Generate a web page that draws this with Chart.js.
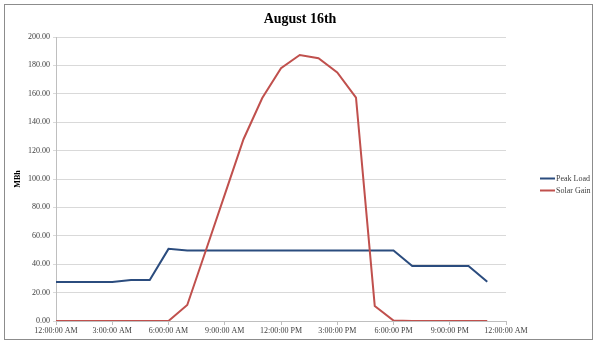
<!DOCTYPE html>
<html>
<head>
<meta charset="utf-8">
<title>August 16th</title>
<script src="https://cdn.jsdelivr.net/npm/chart.js@4"></script>
<style>
  html, body { margin: 0; padding: 0; background: #ffffff; }
  #wrap { position: relative; width: 595px; height: 341px; }
</style>
</head>
<body>
<div id="wrap"><canvas id="chart" width="595" height="341"></canvas></div>
<script>
// Hour of day for each reading (0 = midnight)
const hours = [0, 1, 2, 3, 4, 5, 6, 7, 8, 9, 10, 11, 12, 13, 14, 15, 16, 17, 18, 19, 20, 21, 22, 23];

// Hourly peak cooling load, MBh
const peakLoad = [27.5, 27.5, 27.5, 27.5, 28.8, 28.8, 50.8, 49.7, 49.7, 49.7, 49.7, 49.7,
                  49.7, 49.7, 49.7, 49.7, 49.7, 49.7, 49.7, 38.8, 38.8, 38.8, 38.8, 27.6];

// Hourly solar heat gain, MBh
const solarGain = [0, 0, 0, 0, 0, 0, 0, 11.3, 50, 89, 128, 157,
                   178, 187.3, 185, 175, 157.3, 10.6, 0.3, 0, 0, 0, 0, 0];

// Axis tick labels, one every three hours
const xTickLabels = ['12:00:00 AM', '3:00:00 AM', '6:00:00 AM', '9:00:00 AM', '12:00:00 PM',
                     '3:00:00 PM', '6:00:00 PM', '9:00:00 PM', '12:00:00 AM'];

const seriesNames = ['Peak Load', 'Solar Gain'];
const seriesColors = ['#2b4c7e', '#c0504d'];

const SERIF = '"Liberation Serif", "Times New Roman", serif';

const toPoints = (vals) => vals.map((v, i) => ({ x: hours[i], y: v }));

// Page frame and white background
const framePlugin = {
  id: 'frame',
  beforeDraw(chart) {
    const ctx = chart.ctx;
    ctx.save();
    ctx.fillStyle = '#ffffff';
    ctx.fillRect(0, 0, chart.width, chart.height);
    ctx.strokeStyle = '#8c8c8c';
    ctx.lineWidth = 1;
    ctx.strokeRect(4.5, 4.5, 588, 335);
    ctx.restore();
  }
};

// Legend drawn in the space right of the plot: line sample + label
const sideLegend = {
  id: 'sideLegend',
  afterDraw(chart) {
    const ctx = chart.ctx;
    const x0 = chart.chartArea.right + 34;
    const yMid = (chart.chartArea.top + chart.chartArea.bottom) / 2;
    const rowH = 12.5;
    ctx.save();
    ctx.font = '8px ' + SERIF;
    ctx.textBaseline = 'middle';
    chart.data.datasets.forEach((ds, i) => {
      const y = Math.round(yMid - 1.5 + rowH * i) + 0.5;
      ctx.strokeStyle = ds.borderColor;
      ctx.lineWidth = 2;
      ctx.beginPath();
      ctx.moveTo(x0, y);
      ctx.lineTo(x0 + 15, y);
      ctx.stroke();
      ctx.fillStyle = '#404040';
      ctx.fillText(ds.label, x0 + 16, y);
    });
    ctx.restore();
  }
};

new Chart(document.getElementById('chart'), {
  type: 'line',
  data: {
    datasets: [
      { label: seriesNames[0], data: toPoints(peakLoad), borderColor: seriesColors[0],
        backgroundColor: seriesColors[0], borderWidth: 2, pointRadius: 0, tension: 0, order: 1 },
      { label: seriesNames[1], data: toPoints(solarGain), borderColor: seriesColors[1],
        backgroundColor: seriesColors[1], borderWidth: 2, pointRadius: 0, tension: 0, order: 0 }
    ]
  },
  options: {
    responsive: false,
    animation: false,
    devicePixelRatio: 1,
    layout: { padding: { left: 12, right: 7, top: 0, bottom: 0 } },
    plugins: {
      legend: { display: false },
      tooltip: { enabled: false },
      title: {
        display: true,
        text: 'August 16th',
        color: '#000000',
        font: { family: SERIF, size: 14, weight: 'bold' },
        padding: { top: 10.6, bottom: 9.6 }
      }
    },
    scales: {
      x: {
        type: 'linear',
        min: 0,
        max: 24,
        afterFit(scale) { scale.height = 20; },
        ticks: {
          stepSize: 3,
          autoSkip: false,
          maxRotation: 0,
          padding: 1,
          color: '#404040',
          font: { family: SERIF, size: 8 },
          callback: (v) => xTickLabels[v / 3]
        },
        grid: { drawOnChartArea: false, drawTicks: true, tickLength: 4, color: '#bfbfbf' },
        border: { display: true, color: '#bfbfbf', width: 1 }
      },
      y: {
        min: 0,
        max: 200,
        afterFit(scale) { scale.width = 44; },
        ticks: {
          stepSize: 20,
          padding: 3,
          color: '#404040',
          font: { family: SERIF, size: 8 },
          callback: (v) => v.toFixed(2)
        },
        grid: { color: '#d9d9d9', drawTicks: true, tickLength: 3 },
        border: { display: true, color: '#bfbfbf', width: 1 },
        title: {
          display: true,
          text: 'MBh',
          color: '#000000',
          font: { family: SERIF, size: 8, weight: 'bold' },
          padding: { top: 1, bottom: 0 }
        }
      },
      // empty right-hand band that holds the legend
      legendBand: {
        type: 'linear',
        position: 'right',
        display: true,
        afterFit(scale) { scale.width = 82; },
        ticks: { display: false },
        grid: { display: false },
        border: { display: false }
      }
    }
  },
  plugins: [framePlugin, sideLegend]
});
</script>
</body>
</html>
